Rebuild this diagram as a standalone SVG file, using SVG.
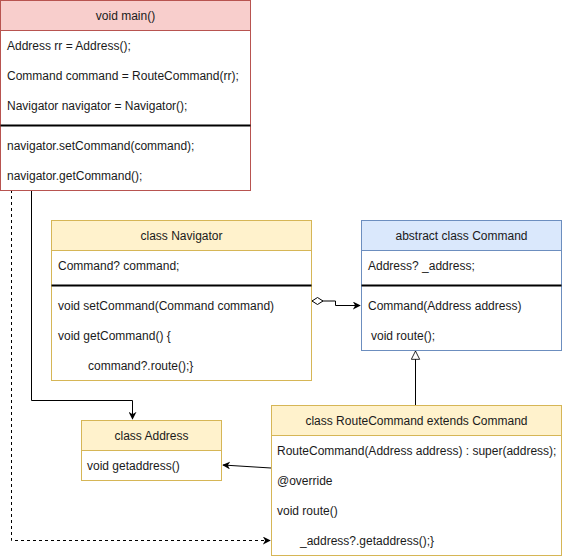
<svg xmlns="http://www.w3.org/2000/svg" width="563" height="556" viewBox="0 0 563 556">
  <style>
    text { font-family: "Liberation Sans", Arial, sans-serif; font-size: 12px; fill: #1a1a1a; }
    .hd { text-anchor: middle; }
    .red { stroke: #b85450; }
    .yel { stroke: #d6b656; }
    .blu { stroke: #6c8ebf; }
    .sep { stroke: #000; stroke-width: 2; }
    .edge { fill: none; stroke: #000; stroke-width: 1; }
  </style>
  <defs>
    <marker id="arrow" viewBox="0 0 10 10" refX="9" refY="5" markerWidth="8" markerHeight="8" markerUnits="userSpaceOnUse" orient="auto">
      <path d="M0,0 L10,5 L0,10 L3,5 Z" fill="#000"/>
    </marker>
    <marker id="tri" viewBox="0 0 12 12" refX="11" refY="6" markerWidth="10" markerHeight="10" markerUnits="userSpaceOnUse" orient="auto">
      <path d="M1,1 L11,6 L1,11 Z" fill="#fff" stroke="#000" stroke-width="1"/>
    </marker>
    <marker id="diamond" viewBox="0 0 12 8" refX="0.5" refY="4" markerWidth="12" markerHeight="8" markerUnits="userSpaceOnUse" orient="auto">
      <path d="M0.5,4 L6,0.5 L11.5,4 L6,7.5 Z" fill="#fff" stroke="#000" stroke-width="1"/>
    </marker>
  </defs>

  <!-- connectors -->
  <g id="connectors">
    <path class="edge" d="M31.5,190 V400.5 H132.5 V419" marker-end="url(#arrow)"/>
    <path class="edge" d="M11.5,190 V540.5 H270" stroke-dasharray="3 3" marker-end="url(#arrow)"/>
    <path class="edge" d="M312,301 H335.5 V305.5 H360" marker-start="url(#diamond)" marker-end="url(#arrow)"/>
    <path class="edge" d="M415.5,405 V351" marker-end="url(#tri)"/>
    <path class="edge" d="M271,468 L223,465" marker-end="url(#arrow)"/>
  </g>

  <!-- void main() -->
  <g id="main">
    <rect x="0.5" y="0.5" width="250" height="190" fill="#fff" class="red"/>
    <rect x="0.5" y="0.5" width="250" height="30" fill="#f8cecc" class="red"/>
    <text class="hd" x="125.5" y="19.5">void main()</text>
    <text x="7" y="49.5">Address rr = Address();</text>
    <text x="7" y="79.5">Command command = RouteCommand(rr);</text>
    <text x="7" y="109.5">Navigator navigator = Navigator();</text>
    <line class="sep" x1="0.5" y1="125.5" x2="250.5" y2="125.5"/>
    <text x="7" y="149.5">navigator.setCommand(command);</text>
    <text x="7" y="179.5">navigator.getCommand();</text>
  </g>

  <!-- class Navigator -->
  <g id="navigator">
    <rect x="51.5" y="220.5" width="260" height="160" fill="#fff" class="yel"/>
    <rect x="51.5" y="220.5" width="260" height="30" fill="#fff2cc" class="yel"/>
    <text class="hd" x="181.5" y="239.5">class Navigator</text>
    <text x="58" y="270">Command? command;</text>
    <line class="sep" x1="51.5" y1="285.5" x2="311.5" y2="285.5"/>
    <text x="58" y="309.5">void setCommand(Command command)</text>
    <text x="58" y="339.5">void getCommand() {</text>
    <text x="88" y="369.5">command?.route();}</text>
  </g>

  <!-- abstract class Command -->
  <g id="command">
    <rect x="361.5" y="220.5" width="200" height="130" fill="#fff" class="blu"/>
    <rect x="361.5" y="220.5" width="200" height="30" fill="#dae8fc" class="blu"/>
    <text class="hd" x="461.5" y="239.5">abstract class Command</text>
    <text x="368" y="270">Address? _address;</text>
    <line class="sep" x1="361.5" y1="285.5" x2="561.5" y2="285.5"/>
    <text x="368" y="309.5">Command(Address address)</text>
    <text x="371" y="339.5">void route();</text>
  </g>

  <!-- class Address -->
  <g id="address">
    <rect x="81.5" y="420.5" width="140" height="60" fill="#fff" class="yel"/>
    <rect x="81.5" y="420.5" width="140" height="30" fill="#fff2cc" class="yel"/>
    <text class="hd" x="151.5" y="439.5">class Address</text>
    <text x="87" y="469.5">void getaddress()</text>
  </g>

  <!-- class RouteCommand -->
  <g id="routecommand">
    <rect x="271.5" y="405.5" width="290" height="150" fill="#fff" class="yel"/>
    <rect x="271.5" y="405.5" width="290" height="30" fill="#fff2cc" class="yel"/>
    <text class="hd" x="416.5" y="424.5">class RouteCommand extends Command</text>
    <text x="277" y="454.5">RouteCommand(Address address) : super(address);</text>
    <text x="277" y="484.5">@override</text>
    <text x="277" y="514.5">void route()</text>
    <text x="300" y="544.5">_address?.getaddress();}</text>
  </g>
</svg>
